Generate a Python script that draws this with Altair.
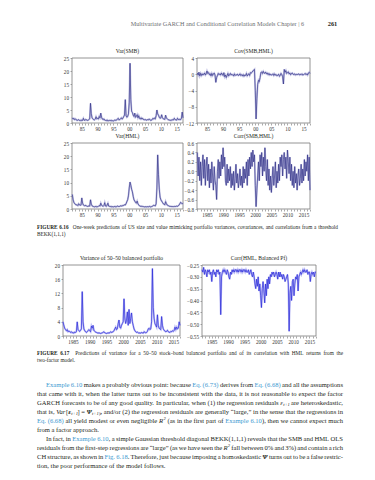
import re
import altair as alt
import pandas as pd

# ---------------- data (quarterly readings, 1982.00 ... 2017.00) ----------------
START_YEAR = 1982.0

var_smb = [2.0, 1.5, 1.8, 1.3, 1.6, 1.2, 1.0, 1.1, 1.3, 1.0, 0.9, 1.2, 0.9, 1.0, 1.8, 1.1,
           1.0, 1.4, 1.2, 1.0, 1.1, 1.3, 1.6, 7.6, 3.5, 2.0, 1.6, 1.3, 1.2, 1.5, 2.4, 1.6,
           1.8, 1.5, 2.5, 2.0, 3.8, 2.2, 1.5, 1.3, 1.6, 1.1, 1.0, 0.9, 1.2, 0.8, 0.9, 1.0,
           0.9, 1.1, 0.8, 0.9, 0.8, 1.0, 1.2, 1.0, 1.1, 1.5, 1.8, 1.2, 1.3, 1.6, 2.0, 1.5,
           1.8, 2.5, 3.0, 9.0, 2.8, 2.2, 2.5, 3.5, 8.0, 23.0, 9.0, 4.5, 4.0, 3.0, 2.5, 3.8,
           2.2, 2.5, 3.2, 2.0, 2.8, 1.8, 1.5, 2.0, 1.5, 1.8, 1.3, 1.2, 1.4, 1.2, 1.1, 1.3,
           1.2, 1.5, 1.4, 1.0, 1.1, 1.3, 1.8, 1.5, 1.9, 1.6, 2.8, 5.0, 3.5, 3.0, 2.2, 1.8,
           2.0, 3.2, 2.0, 1.6, 1.5, 1.4, 3.0, 2.0, 1.6, 1.3, 1.2, 1.1, 1.0, 1.2, 1.0, 1.3,
           1.2, 1.8, 1.3, 1.2, 1.1, 1.8, 1.4, 1.2, 1.5, 1.3, 1.8, 4.2, 2.0]

cov_smb_hml = [0.3, -0.2, 0.5, -0.4, 0.2, -0.3, 0.1, -0.2, 0.0, 0.3, -0.2, 0.1, 0.8, 0.2, 0.4, -0.1,
               0.1, -0.4, 0.2, -0.3, 0.1, 0.3, -0.2, -2.0, -0.8, -0.3, 0.2, -0.1, 0.1, -0.2, 0.3, 0.0,
               -0.3, 0.4, -0.6, -0.2, -0.8, -0.3, 0.2, -0.4, -0.1, 0.2, -0.2, 0.0, -0.2, -0.4, 0.1, -0.3,
               -0.1, -0.2, 0.0, -0.3, -0.2, 0.1, -0.3, -0.1, -0.4, -0.1, -0.5, -0.2, -0.3, 0.2, -0.4, -0.1,
               0.1, -0.3, 0.4, 0.3, 0.5, 0.8, 1.0, 1.2, -4.0, -11.0, -6.0, -2.5, -1.5, -1.8, -0.8, 0.4,
               0.6, 0.2, 0.7, 0.3, 0.2, 0.5, 0.1, 0.3, -0.1, 0.2, -0.2, 0.0, -0.2, -0.1, 0.1, -0.3,
               0.1, -0.2, -0.1, -0.4, -0.2, 0.0, -0.5, -0.3, 0.2, -0.1, -0.6, -2.4, 1.2, 0.5, 0.9, 0.2,
               0.4, 0.6, 0.1, 0.3, -0.1, 0.2, 0.3, 0.0, -0.1, 0.1, -0.2, 0.0, -0.1, 0.0, 0.1, -0.2,
               0.0, -0.1, 0.1, -0.2, -0.1, 0.0, 0.2, -0.1, 0.1, -0.2, 0.3, 0.5, 0.2]

var_hml = [5.5, 3.5, 2.5, 2.0, 1.8, 1.5, 1.6, 1.3, 2.0, 1.6, 1.4, 1.5, 4.2, 2.2, 1.5, 1.3,
           1.2, 1.4, 1.1, 1.0, 1.0, 1.2, 1.1, 3.5, 1.8, 1.2, 1.0, 0.9, 0.8, 0.9, 1.0, 0.8,
           0.9, 1.0, 1.3, 1.1, 2.2, 1.4, 1.2, 1.0, 1.3, 2.4, 1.2, 1.0, 1.5, 2.2, 1.1, 1.0,
           0.9, 1.0, 0.8, 0.9, 0.8, 0.9, 1.0, 0.8, 0.9, 1.1, 1.0, 0.9, 1.0, 1.2, 1.1, 1.3,
           1.2, 1.4, 1.6, 1.5, 2.0, 2.8, 3.5, 5.0, 8.0, 10.2, 9.0, 7.5, 6.5, 4.8, 3.5, 3.0,
           2.5, 2.2, 3.0, 2.0, 1.5, 1.2, 1.0, 1.1, 0.9, 1.0, 0.9, 0.8, 0.8, 0.9, 0.8, 0.9,
           0.8, 0.9, 1.0, 0.8, 0.9, 1.0, 1.2, 1.4, 1.3, 1.2, 2.0, 8.0, 20.5, 13.0, 7.5, 4.5,
           3.5, 3.0, 2.5, 2.0, 1.8, 1.6, 2.8, 2.0, 1.5, 1.3, 1.2, 1.0, 1.0, 0.9, 1.0, 0.9,
           0.9, 1.0, 0.9, 1.0, 1.1, 1.0, 1.2, 1.5, 2.0, 2.5, 2.2, 2.0, 2.3]

corr_smb_hml = [0.40, -0.10, 0.30, -0.20, 0.20, -0.30, 0.10, 0.35, -0.15, 0.25, -0.30, 0.10,
                0.30, -0.20, 0.15, -0.35, 0.05, -0.25, 0.20, -0.10, -0.40, 0.10, -0.20, -0.30,
                -0.60, 0.00, 0.25, -0.15, 0.20, -0.10, 0.35, 0.05, 0.50, 0.10, 0.30, -0.20,
                -0.30, 0.15, -0.25, 0.05, -0.20, 0.10, -0.35, -0.05, -0.30, 0.00, -0.40, -0.15,
                0.15, -0.25, -0.05, -0.35, -0.20, 0.05, -0.30, -0.10, -0.35, 0.10, -0.25, 0.05,
                -0.15, 0.20, -0.30, 0.25, -0.10, 0.30, 0.05, 0.40, 0.10, 0.45, 0.20, 0.35,
                -0.30, -0.75, -0.40, -0.10, 0.20, -0.20, 0.35, 0.10, 0.40, -0.10, 0.30, 0.00,
                0.50, 0.10, -0.20, 0.25, -0.30, 0.05, -0.40, -0.10, -0.45, -0.15, 0.10, -0.30,
                -0.10, 0.20, -0.35, 0.00, -0.25, 0.15, -0.20, 0.30, 0.10, 0.35, -0.10, 0.25,
                0.40, 0.05, 0.30, -0.15, 0.45, 0.20, -0.05, 0.30, -0.20, 0.15, -0.30, 0.00,
                -0.35, 0.10, -0.25, -0.05, -0.40, -0.10, 0.05, -0.30, -0.15, 0.15, -0.25, 0.05,
                -0.20, 0.25, -0.10, 0.20, 0.00, 0.35, -0.20, 0.30, -0.40]

var_balanced = [4.0, 3.0, 2.2, 1.8, 1.5, 1.8, 1.2, 1.4, 1.3, 1.0, 1.2, 0.9, 1.0, 0.8, 1.1, 1.0,
                1.2, 4.0, 1.8, 1.5, 1.3, 1.6, 2.0, 12.5, 4.0, 2.0, 1.5, 1.2, 1.0, 1.2, 1.5, 1.8,
                1.5, 1.2, 2.8, 2.2, 3.0, 1.6, 1.3, 1.1, 1.0, 0.9, 0.8, 0.9, 0.8, 0.7, 0.8, 0.9,
                1.0, 1.2, 0.9, 0.8, 0.7, 0.8, 0.9, 0.8, 0.9, 1.2, 1.0, 1.1, 1.2, 1.5, 2.0, 2.5,
                1.8, 2.0, 3.5, 4.5, 2.5, 2.2, 3.0, 3.5, 4.0, 10.5, 5.0, 3.5, 4.5, 6.8, 3.0, 7.5,
                3.5, 5.0, 6.5, 4.0, 3.0, 2.0, 1.5, 1.2, 1.0, 1.1, 0.9, 0.8, 0.9, 0.8, 1.0, 0.9,
                0.8, 1.2, 1.0, 0.9, 1.0, 1.3, 2.0, 2.2, 1.8, 2.0, 4.0, 19.0, 8.0, 5.0, 3.5, 3.0,
                2.5, 6.0, 3.0, 2.2, 2.0, 1.8, 5.5, 3.0, 2.0, 1.6, 1.4, 1.2, 1.3, 1.6, 1.2, 1.1,
                1.0, 1.3, 1.2, 1.5, 1.3, 1.6, 2.5, 1.8, 2.5, 2.0, 2.2, 4.0, 3.0]

corr_hml_balanced = [-0.27, -0.28, -0.26, -0.29, -0.27, -0.28, -0.30, -0.27, -0.28, -0.27, -0.29, -0.28,
                     -0.32, -0.28, -0.27, -0.29, -0.28, -0.30, -0.27, -0.28, -0.27, -0.29, -0.28, -0.46,
                     -0.30, -0.28, -0.27, -0.28, -0.27, -0.28, -0.29, -0.27, -0.28, -0.30, -0.31, -0.28,
                     -0.29, -0.27, -0.28, -0.27, -0.28, -0.27, -0.27, -0.28, -0.27, -0.28, -0.27, -0.27,
                     -0.28, -0.27, -0.28, -0.27, -0.27, -0.28, -0.27, -0.28, -0.28, -0.27, -0.29, -0.28,
                     -0.27, -0.29, -0.30, -0.28, -0.30, -0.33, -0.35, -0.31, -0.34, -0.30, -0.36, -0.33,
                     -0.38, -0.43, -0.35, -0.32, -0.36, -0.41, -0.33, -0.38, -0.31, -0.35, -0.30, -0.33,
                     -0.29, -0.30, -0.28, -0.29, -0.28, -0.30, -0.29, -0.28, -0.29, -0.31, -0.28, -0.30,
                     -0.28, -0.30, -0.29, -0.31, -0.29, -0.30, -0.32, -0.31, -0.30, -0.29, -0.33, -0.53,
                     -0.37, -0.34, -0.40, -0.32, -0.31, -0.38, -0.33, -0.30, -0.31, -0.29, -0.36, -0.30,
                     -0.29, -0.28, -0.29, -0.28, -0.27, -0.28, -0.27, -0.28, -0.28, -0.27, -0.29, -0.28,
                     -0.28, -0.32, -0.29, -0.28, -0.29, -0.28, -0.30, -0.28, -0.28]

panel_titles = ["Var(SMB)", "Cov(SMB,HML)", "Var(HML)", "Corr(SMB,HML)",
                "Variance of 50\u201350 balanced portfolio", "Corr(HML, Balanced Pf)"]

header_text = "Multivariate GARCH and Conditional Correlation Models  Chapter | 6"
page_number = "261"

caption_616 = ["{B:FIGURE 6.16}  One-week predictions of US size and value mimicking portfolio variances, covariances, and correlations from a threshold",
               "BEKK(1,1,1)"]
caption_617 = ["{B:FIGURE 6.17}  Predictions of variance for a 50\u201350 stock\u2013bond balanced portfolio and of its correlation with HML returns from the",
               "two-factor model."]

body_lines = [
    "{L:Example 6.10} makes a probably obvious point: because {L:Eq. (6.73)} derives from {L:Eq. (6.68)} and all the assumptions",
    "that came with it, when the latter turns out to be inconsistent with the data, it is not reasonable to expect the factor",
    "GARCH forecasts to be of any good quality. In particular, when (1) the regression residuals {i:\u03b5}{s:t+1} are heteroskedastic,",
    "that is, {i:Var}[{b:\u03b5}{s:t+1}] = {b:\u03a8}{s:t+1|t}, and/or (2) the regression residuals are generally \u201clarge,\u201d in the sense that the regressions in",
    "{L:Eq. (6.68)} all yield modest or even negligible {i:R}{p:2} (as in the first part of {L:Example 6.10}), then we cannot expect much",
    "from a factor approach.",
    "In fact, in {L:Example 6.10}, a simple Gaussian threshold diagonal BEKK(1,1,1) reveals that the SMB and HML OLS",
    "residuals from the first-step regressions are \u201clarge\u201d (as we have seen the {i:R}{p:2} fall between 0% and 3%) and contain a rich",
    "CH structure, as shown in {L:Fig. 6.18}. Therefore, just because imposing a homoskedastic {b:\u03a8} turns out to be a false restric-",
    "tion, the poor performance of the model follows.",
]

# ---------------- layout helpers ----------------
W_PAGE, H_PAGE = 375, 480
SERIF = "Liberation Serif"
TEXT_COLOR = "#231f20"
LINK_COLOR = "#3d9ad1"

_W = {' ': 250, '!': 333, '"': 408, '%': 833, '&': 778, "'": 180, '(': 333, ')': 333, '*': 500,
      '+': 564, ',': 250, '-': 333, '.': 250, '/': 278, ':': 278, ';': 278, '=': 564, '?': 444,
      '[': 333, ']': 333, '|': 200,
      'A': 722, 'B': 667, 'C': 667, 'D': 722, 'E': 611, 'F': 556, 'G': 722, 'H': 722, 'I': 333,
      'J': 389, 'K': 722, 'L': 611, 'M': 889, 'N': 722, 'O': 722, 'P': 556, 'Q': 722, 'R': 667,
      'S': 556, 'T': 611, 'U': 722, 'V': 722, 'W': 944, 'X': 722, 'Y': 722, 'Z': 611,
      'a': 444, 'b': 500, 'c': 444, 'd': 500, 'e': 444, 'f': 333, 'g': 500, 'h': 500, 'i': 278,
      'j': 278, 'k': 500, 'l': 278, 'm': 778, 'n': 500, 'o': 500, 'p': 500, 'q': 500, 'r': 333,
      's': 389, 't': 278, 'u': 500, 'v': 500, 'w': 722, 'x': 500, 'y': 500, 'z': 444,
      '\u201c': 444, '\u201d': 444, '\u2013': 500, '\u2014': 1000, '\u03b5': 440, '\u03a8': 790}

STY = {
    'n': dict(color=TEXT_COLOR, grp='normal', scale=1.0, dy=0.0, wf=1.0),
    'L': dict(color=LINK_COLOR, grp='normal', scale=1.0, dy=0.0, wf=1.0),
    'i': dict(color=TEXT_COLOR, grp='italic', scale=1.0, dy=0.0, wf=1.0),
    'b': dict(color=TEXT_COLOR, grp='bolditalic', scale=1.0, dy=0.0, wf=1.05),
    's': dict(color=TEXT_COLOR, grp='italic', scale=0.7, dy=1.5, wf=1.0),
    'p': dict(color=TEXT_COLOR, grp='italic', scale=0.7, dy=-2.6, wf=1.0),
    'B': dict(color=TEXT_COLOR, grp='bold', scale=1.0, dy=0.0, wf=1.07),
}


def text_w(s, size, st='n'):
    p = STY[st]
    return sum(_W.get(c, 500) for c in s) / 1000.0 * size * p['scale'] * p['wf']


def parse_runs(s):
    runs, pos = [], 0
    for m in re.finditer(r'\{(\w):([^}]*)\}', s):
        if m.start() > pos:
            runs.append(('n', s[pos:m.start()]))
        runs.append((m.group(1), m.group(2)))
        pos = m.end()
    if pos < len(s):
        runs.append(('n', s[pos:]))
    return runs


def layout(lines, x0, x1, y0, lh, size, justify, indents):
    out = []
    for k, line in enumerate(lines):
        items = []
        for st, txt in parse_runs(line):
            parts = txt.split(' ')
            for j, part in enumerate(parts):
                if j > 0:
                    items.append(None)
                if part:
                    items.append((st, part))
        sp = 0.25 * size
        nat = sum(sp if it is None else text_w(it[1], size, it[0]) for it in items)
        nsp = sum(1 for it in items if it is None)
        xs = x0 + indents[k]
        extra = (x1 - xs - nat) / nsp if (justify[k] and nsp) else 0.0
        x = xs
        for it in items:
            if it is None:
                x += sp + extra
                continue
            st, part = it
            p = STY[st]
            out.append(dict(text=part, x=x, y=y0 + k * lh + p['dy'], size=size * p['scale'],
                            color=p['color'], grp=p['grp']))
            x += text_w(part, size, st)
    return out


def right_aligned(text, x_right, y, size, st, color):
    w = text_w(text, size, st)
    return [dict(text=text, x=x_right - w, y=y, size=size, color=color, grp=STY[st]['grp'])]


# ---------------- text blocks ----------------
chunks = []
chunks += right_aligned(header_text, 306, 26, 6.2, 'n', "#6d6e71")
chunks += right_aligned(page_number, 338, 26, 6.4, 'B', TEXT_COLOR)
chunks += layout(caption_616, 37, 338, 229, 7.2, 5.3, [True, False], [0, 0])
chunks += layout(caption_617, 37, 343, 355, 7.2, 5.3, [True, False], [0, 0])
chunks += layout(body_lines, 37, 343, 386.5, 9.0, 6.6,
                 [True, True, True, True, True, False, True, True, True, False],
                 [9, 0, 0, 0, 0, 0, 9, 0, 0, 0])

text_df = pd.DataFrame(chunks)

FONT_PROPS = {'normal': dict(), 'italic': dict(fontStyle='italic'),
              'bold': dict(fontWeight='bold'), 'bolditalic': dict(fontWeight='bold', fontStyle='italic')}

layers = []
for grp, props in FONT_PROPS.items():
    sub = text_df[text_df['grp'] == grp]
    if len(sub) == 0:
        continue
    layers.append(
        alt.Chart(sub).mark_text(align='left', baseline='alphabetic', font=SERIF, **props).encode(
            x=alt.X('x:Q', scale=None, axis=None),
            y=alt.Y('y:Q', scale=None, axis=None),
            text='text:N',
            size=alt.Size('size:Q', scale=None, legend=None),
            color=alt.Color('color:N', scale=None, legend=None),
        )
    )

# ---------------- panels ----------------
n = len(var_smb)
t_index = [START_YEAR + 0.25 * i for i in range(n)]
TICK_YEARS = list(range(1982, 2018))
LAB2 = "datum.value % 5 === 0 ? format(datum.value % 100, '02d') : ''"
LAB4 = "datum.value % 5 === 0 ? format(datum.value, 'd') : ''"

NAVY, NAVY_HALO = "#26267f", "#a3a3d6"
BLUE, BLUE_HALO = "#1c1cd6", "#9a9af0"

panels = [
    (var_smb, (72, 58, 183, 123), [1981.9, 2017.0], [0, 25], [0, 5, 10, 15, 20, 25], 'd', LAB2, NAVY, NAVY_HALO),
    (cov_smb_hml, (197, 58, 310, 123), [1981.9, 2017.0], [-12, 4], [-12, -8, -4, 0, 4], 'd', LAB2, NAVY, NAVY_HALO),
    (var_hml, (72, 143, 183, 209), [1981.9, 2017.0], [0, 25], [0, 5, 10, 15, 20, 25], 'd', LAB2, NAVY, NAVY_HALO),
    (corr_smb_hml, (197, 143, 310, 209), [1981.9, 2017.0], [-0.8, 0.6],
     [round(-0.8 + 0.2 * k, 1) for k in range(8)], '.1f', LAB4, NAVY, NAVY_HALO),
    (var_balanced, (63, 265, 180, 336), [1982.0, 2017.0], [0, 20], [0, 4, 8, 12, 16, 20], 'd', LAB4, BLUE, BLUE_HALO),
    (corr_hml_balanced, (202, 265, 316, 336), [1982.0, 2017.0], [-0.55, -0.25],
     [round(-0.55 + 0.05 * k, 2) for k in range(7)], '.2f', LAB4, BLUE, BLUE_HALO),
]

one_row = pd.DataFrame({'k': [0]})
for (vals, box, xdom, ydom, yt, yfmt, xlab, col, halo), title in zip(panels, panel_titles):
    left, top, right, bottom = box
    df = pd.DataFrame({'t': t_index, 'v': vals})

    def xs():
        return alt.Scale(domain=xdom, range=[left, right], nice=False, zero=False)

    def ys():
        return alt.Scale(domain=ydom, range=[bottom, top], nice=False, zero=False)

    xaxis = alt.Axis(orient='bottom', offset=bottom - H_PAGE, values=TICK_YEARS, labelExpr=xlab,
                     grid=False, domain=False, labelOverlap=False, labelFlush=False, title=None)
    yaxis = alt.Axis(orient='left', offset=-left, values=yt, format=yfmt,
                     grid=False, domain=False, labelOverlap=False, labelFlush=False, title=None)
    frame = alt.Chart(one_row).mark_rect(fill='white', stroke="#7a7a7a", strokeWidth=0.8).encode(
        x=alt.value(left), x2=alt.value(right), y=alt.value(top), y2=alt.value(bottom))
    layers.append(frame)
    layers.append(alt.Chart(df).mark_line(color=halo, strokeWidth=1.8, opacity=0.7).encode(
        x=alt.X('t:Q', scale=xs(), axis=xaxis), y=alt.Y('v:Q', scale=ys(), axis=yaxis)))
    layers.append(alt.Chart(df).mark_line(color=col, strokeWidth=0.6).encode(
        x=alt.X('t:Q', scale=xs(), axis=None), y=alt.Y('v:Q', scale=ys(), axis=None)))
    layers.append(alt.Chart(one_row).mark_text(font=SERIF, fontSize=5.6, color=TEXT_COLOR, align='center',
                                               baseline='alphabetic', text=title).encode(
        x=alt.value((left + right) / 2), y=alt.value(top - 5)))

chart = alt.layer(*layers).resolve_scale(x='independent', y='independent').resolve_axis(
    x='independent', y='independent'
).properties(
    width=W_PAGE, height=H_PAGE, padding=0, autosize=alt.AutoSizeParams(type='none'), background='white'
).configure_view(stroke=None).configure_axis(
    labelFont=SERIF, labelFontSize=5.2, labelColor="#333333", tickColor="#555555", tickSize=2,
    tickWidth=0.5, labelPadding=1.5
)

chart.save("out.html", embed_options={"renderer": "svg", "actions": False})
